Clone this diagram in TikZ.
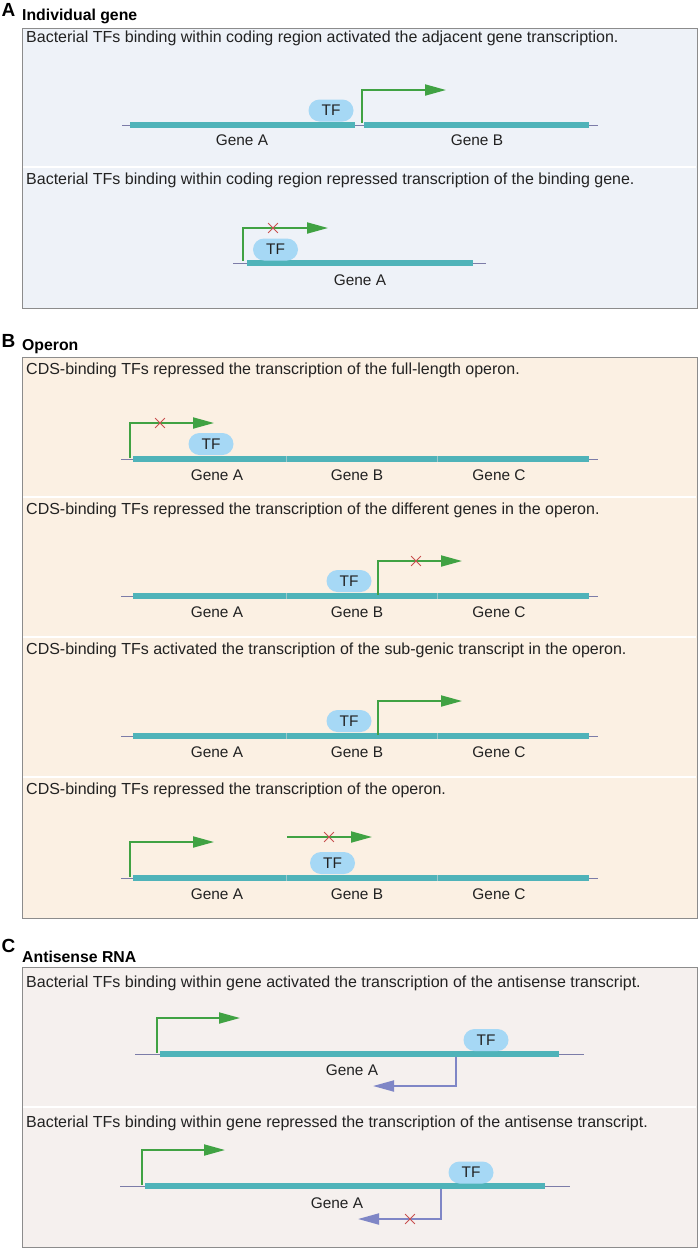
\documentclass[tikz,border=0pt]{standalone}
\usepackage{fontspec}
\setmainfont{Liberation Sans}
\usetikzlibrary{arrows.meta,shapes.misc}
\definecolor{bgA}{HTML}{EEF2F8}
\definecolor{bgB}{HTML}{FBF0E3}
\definecolor{bgC}{HTML}{F5F0EE}
\definecolor{framegray}{HTML}{8C8C8C}
\definecolor{barcol}{HTML}{4FB3B9}
\definecolor{tickcol}{HTML}{9CC9CC}
\definecolor{tfblue}{HTML}{A6D8F5}
\definecolor{promgreen}{HTML}{40A243}
\definecolor{antipurple}{HTML}{7F86C6}
\definecolor{xred}{HTML}{C8504F}
\definecolor{dnacol}{HTML}{7C7CA8}
\definecolor{txt}{HTML}{222222}
\begin{document}
\begin{tikzpicture}[x=1pt,y=-1pt,
  panel/.style={draw=framegray, line width=0.9pt},
  sepline/.style={white, line width=2pt},
  desc/.style={anchor=base west, inner sep=0, text=txt, font=\fontsize{16}{19}\selectfont},
  pletter/.style={inner sep=0, text=black, font=\fontsize{19}{22}\selectfont\bfseries},
  ptitle/.style={anchor=west, inner sep=0, text=black, font=\fontsize{15.8}{19}\selectfont\bfseries},
  dna/.style={dnacol, line width=0.9pt},
  genebar/.style={barcol, line width=5.5pt},
  gtick/.style={tickcol, line width=0.7pt},
  tf/.style={fill=tfblue, rounded corners=11pt, minimum width=45pt, minimum height=22pt, inner sep=0, text=txt, font=\fontsize{15.4}{18}\selectfont},
  glabel/.style={inner sep=0, text=txt, font=\fontsize{15.4}{18}\selectfont},
  prom/.style={promgreen, line width=1.9pt, -{Triangle[length=21pt,width=11pt]}},
  anti/.style={antipurple, line width=1.9pt, -{Triangle[length=21pt,width=11pt]}},
  blockx/.style={draw=xred, cross out, minimum size=9pt, inner sep=0, line width=0.8pt}
]
\useasboundingbox[fill=white] (0,0) rectangle (698,1251);

% ---------------- Panel A ----------------
\node[pletter] (LA) at (8.5,10) {A};
\node[ptitle] (TA) at (22,16.5) {Individual gene};
\draw[panel, fill=bgA] (22,28) rectangle (697,308);
\draw[sepline] (23,167) -- (696,167);
\node[desc] (dA1) at (26,42.5) {Bacterial TFs binding within coding region activated the adjacent gene transcription.};
\node[desc] (dA2) at (26,184.5) {Bacterial TFs binding within coding region repressed transcription of the binding gene.};

% A1
\draw[dna] (122,125) -- (598,125);
\draw[genebar] (130,125) -- (355,125);
\draw[genebar] (364,125) -- (589,125);
\node[tf] (tfA1) at (331,110.5) {TF};
\node[glabel] (gA1a) at (242,140.5) {Gene A};
\node[glabel] (gA1b) at (477,140.5) {Gene B};
\coordinate (sA1) at (362,123);
\coordinate (eA1) at (446,90);
\draw[prom] (sA1) |- (eA1);

% A2
\draw[dna] (233,263) -- (486,263);
\draw[genebar] (247,263) -- (473,263);
\node[tf] (tfA2) at (275.5,249.5) {TF};
\node[glabel] (gA2a) at (360,280.5) {Gene A};
\coordinate (sA2) at (243,261);
\coordinate (eA2) at (328,228);
\draw[prom] (sA2) |- (eA2);
\node[blockx] (xA2) at (273,228) {};

% ---------------- Panel B ----------------
\node[pletter] (LB) at (8.5,341) {B};
\node[ptitle] (TB) at (22,346.5) {Operon};
\draw[panel, fill=bgB] (22,357) rectangle (697,918);
\draw[sepline] (23,497) -- (696,497);
\draw[sepline] (23,637) -- (696,637);
\draw[sepline] (23,777) -- (696,777);
\node[desc] (dB1) at (26,374) {CDS-binding TFs repressed the transcription of the full-length operon.};
\node[desc] (dB2) at (26,514.5) {CDS-binding TFs repressed the transcription of the different genes in the operon.};
\node[desc] (dB3) at (26,654.5) {CDS-binding TFs activated the transcription of the sub-genic transcript in the operon.};
\node[desc] (dB4) at (26,794.5) {CDS-binding TFs repressed the transcription of the operon.};

% operon rows
\foreach \y/\n in {459/1,596/2,736/3,878/4}{
  \draw[dna] (121,\y) -- (598,\y);
  \draw[genebar] (133,\y) -- (589,\y);
  \draw[gtick] (286,\y-3) -- (286,\y+3);
  \draw[gtick] (437,\y-3) -- (437,\y+3);
  \node[glabel] (gB\n a) at (217,\y+16) {Gene A};
  \node[glabel] (gB\n b) at (357,\y+16) {Gene B};
  \node[glabel] (gB\n c) at (499,\y+16) {Gene C};
}

% B1
\node[tf] (tfB1) at (211,444) {TF};
\coordinate (sB1) at (130,458);
\coordinate (eB1) at (214,423);
\draw[prom] (sB1) |- (eB1);
\node[blockx] (xB1) at (160,423) {};

% B2
\node[tf] (tfB2) at (349,581) {TF};
\coordinate (sB2) at (378,595);
\coordinate (eB2) at (462,561);
\draw[prom] (sB2) |- (eB2);
\node[blockx] (xB2) at (416,561) {};

% B3
\node[tf] (tfB3) at (349,721) {TF};
\coordinate (sB3) at (378,735);
\coordinate (eB3) at (462,701);
\draw[prom] (sB3) |- (eB3);

% B4
\node[tf] (tfB4) at (332.5,863) {TF};
\coordinate (sB4) at (130,877);
\coordinate (eB4) at (214,842);
\draw[prom] (sB4) |- (eB4);
\coordinate (sB4b) at (287,837);
\coordinate (eB4b) at (372,837);
\draw[prom] (sB4b) -- (eB4b);
\node[blockx] (xB4) at (329,837) {};

% ---------------- Panel C ----------------
\node[pletter] (LC) at (8.5,946) {C};
\node[ptitle] (TC) at (22,956.5) {Antisense RNA};
\draw[panel, fill=bgC] (22,967) rectangle (697,1247);
\draw[sepline] (23,1107) -- (696,1107);
\node[desc] (dC1) at (26,987.5) {Bacterial TFs binding within gene activated the transcription of the antisense transcript.};
\node[desc] (dC2) at (26,1127.5) {Bacterial TFs binding within gene repressed the transcription of the antisense transcript.};

% C1
\draw[dna] (135,1054) -- (584,1054);
\draw[genebar] (160,1054) -- (559,1054);
\node[tf] (tfC1) at (486,1040) {TF};
\node[glabel] (gC1) at (352,1070) {Gene A};
\coordinate (sC1) at (157,1053);
\coordinate (eC1) at (240,1018);
\draw[prom] (sC1) |- (eC1);
\coordinate (aC1) at (456,1057);
\coordinate (bC1) at (373,1086);
\draw[anti] (aC1) |- (bC1);

% C2
\draw[dna] (120,1186) -- (570,1186);
\draw[genebar] (145,1186) -- (545,1186);
\node[tf] (tfC2) at (471,1172.5) {TF};
\node[glabel] (gC2) at (337,1203) {Gene A};
\coordinate (sC2) at (142,1185);
\coordinate (eC2) at (225,1150);
\draw[prom] (sC2) |- (eC2);
\coordinate (aC2) at (441,1189);
\coordinate (bC2) at (358,1219);
\draw[anti] (aC2) |- (bC2);
\node[blockx] (xC2) at (410,1219) {};
\end{tikzpicture}
\end{document}
